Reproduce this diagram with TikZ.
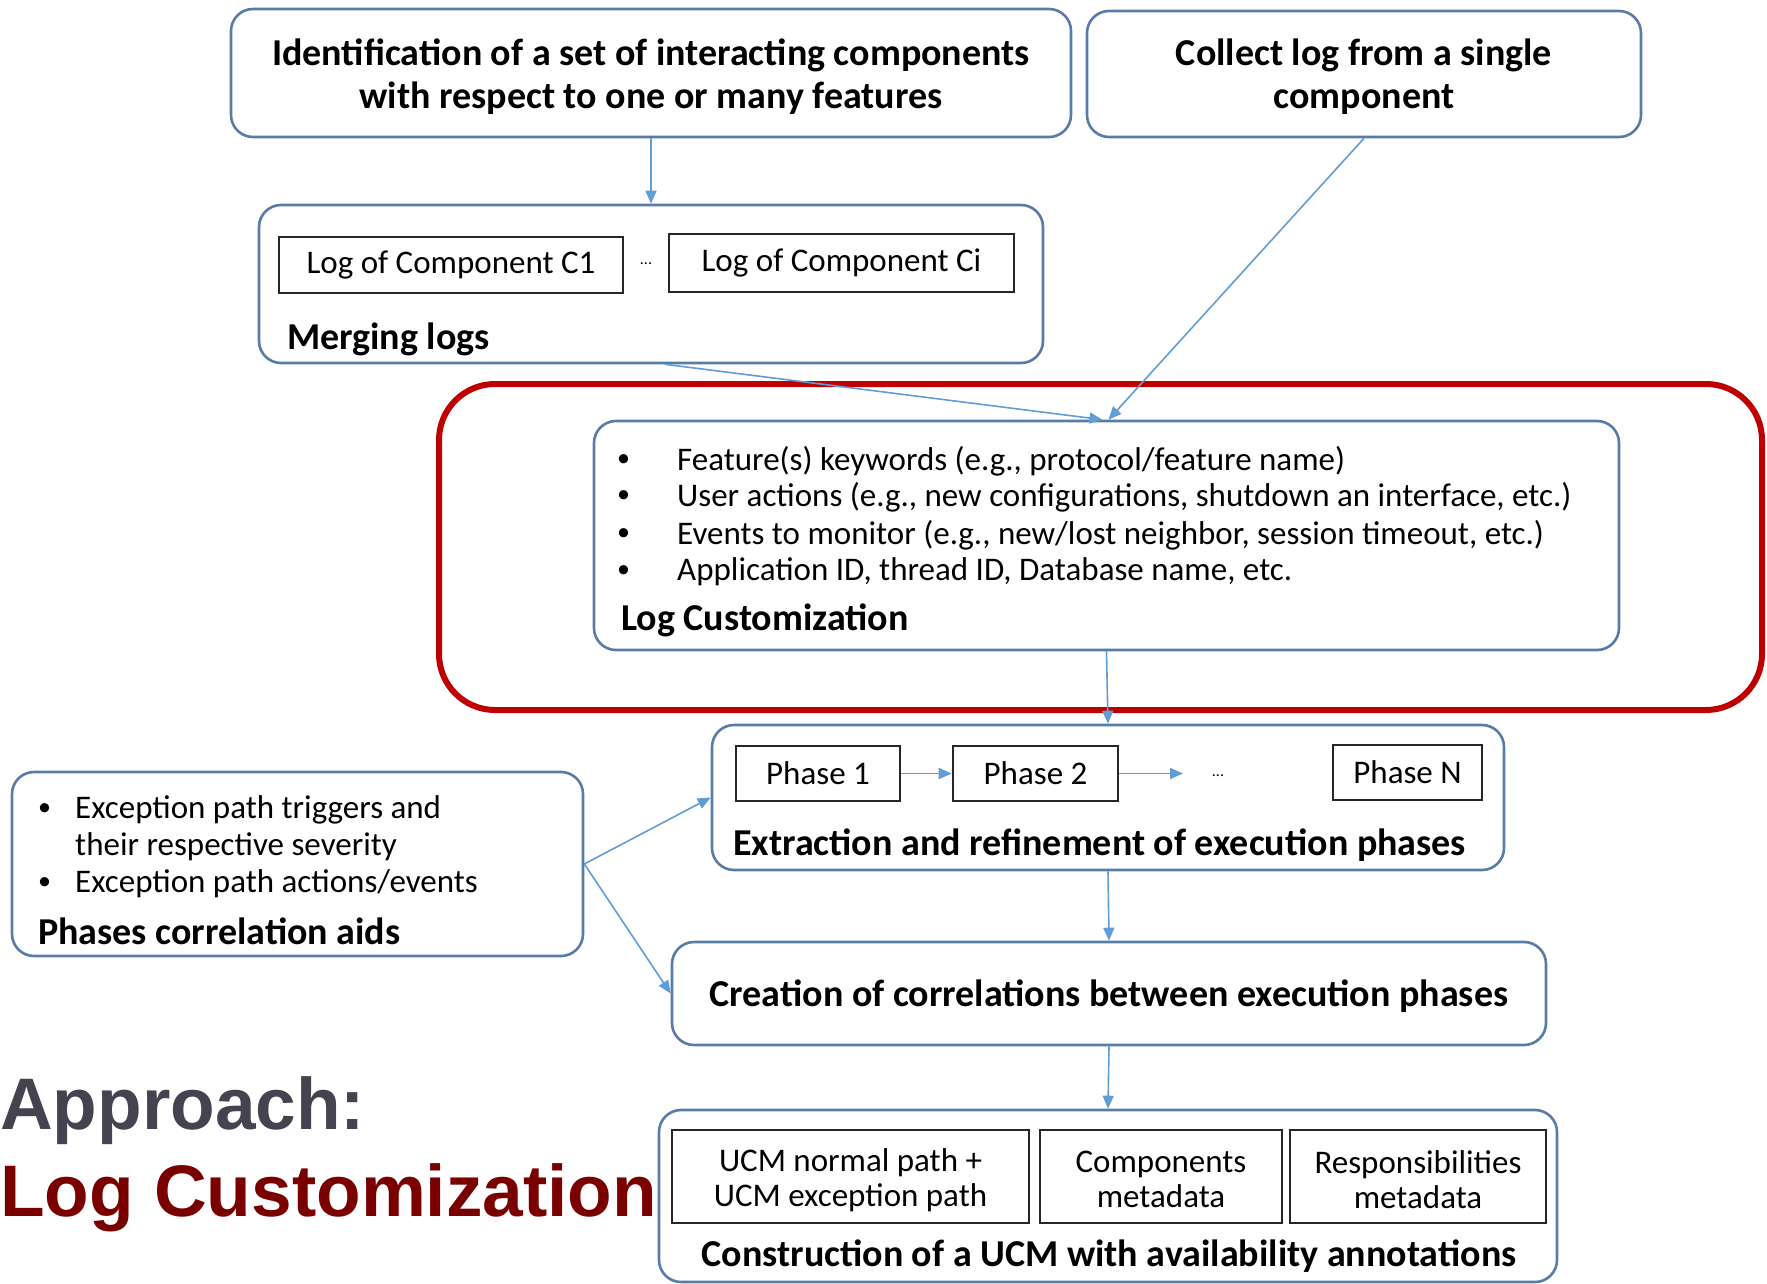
\documentclass[tikz,border=0pt]{standalone}
\usepackage{fontspec}
\setmainfont{Carlito}
\newfontfamily\headfont{Liberation Sans}
\usetikzlibrary{arrows.meta}
\definecolor{boxblue}{RGB}{88,124,168}
\definecolor{arrowblue}{RGB}{96,156,214}
\definecolor{hilite}{RGB}{192,0,0}
\definecolor{titlegray}{RGB}{68,68,80}
\definecolor{titlered}{RGB}{122,0,0}
\begin{document}
\begin{tikzpicture}[x=1pt,y=-1pt,
  rbox/.style={draw=boxblue, line width=2.6pt, rounded corners=22pt, inner sep=0pt},
  ibox/.style={draw=black!85, line width=2.6pt, inner sep=0pt},
  arr/.style={draw=arrowblue, line width=1.6pt, -{Triangle[length=13pt,width=11pt]}},
  txt/.style={inner sep=0pt, text=black},
  bigb/.style={txt, font=\fontsize{38}{43}\selectfont\bfseries},
  lab/.style={txt, anchor=west, font=\fontsize{38}{43}\selectfont\bfseries},
  reg/.style={txt, font=\fontsize{33}{35}\selectfont},
  bul/.style={txt, anchor=west, font=\fontsize{33}{37}\selectfont},
  dot/.style={txt, anchor=west, font=\fontsize{26}{30}\selectfont},
]
\useasboundingbox (0,0) rectangle (1767,1284);

% highlight frame
\node[draw=hilite, line width=6pt, rounded corners=56pt, minimum width=1323pt, minimum height=326pt, inner sep=0pt] (hl) at (1100.5,547) {};

% top boxes
\node[rbox, minimum width=840pt, minimum height=128pt] (b1) at (651,73) {};
\node[bigb, align=center] (t1) at (651,77) {Identification of a set of interacting components\\with respect to one or many features};
\node[rbox, minimum width=554pt, minimum height=126pt] (b2) at (1364,74) {};
\node[bigb, align=center] (t2) at (1364,77) {Collect log from a single\\component};

% merging logs
\node[rbox, minimum width=784pt, minimum height=158pt] (b3) at (651,284) {};
\node[ibox, minimum width=344pt, minimum height=56pt] (c1) at (451,265) {};
\node[reg] at (c1) {Log of Component C1};
\node[ibox, minimum width=345pt, minimum height=58pt] (ci) at (841.5,263) {};
\node[reg] at (ci) {Log of Component Ci};
\node[txt, font=\fontsize{16}{18}\selectfont] (cdots) at (646,264) {...};
\node[lab] (l3) at (287,339) {Merging logs};

% log customization
\node[rbox, minimum width=1025pt, minimum height=229pt] (b4) at (1106.5,535.5) {};
\foreach \y/\t [count=\i] in {461/{Feature(s) keywords (e.g., protocol/feature name)},
  497/{User actions (e.g., new configurations, shutdown an interface, etc.)},
  535/{Events to monitor (e.g., new/lost neighbor, session timeout, etc.)},
  572/{Application ID, thread ID, Database name, etc.}} {
  \node[dot] (k\i) at (617,\y) {•};
  \node[bul] (m\i) at (677,\y) {\t};
}
\node[lab] (l4) at (621,620) {Log Customization};

% execution phases
\node[rbox, minimum width=792pt, minimum height=145pt] (b5) at (1108,797.5) {};
\node[ibox, minimum width=164pt, minimum height=55pt] (p1) at (818,773.5) {};
\node[reg] at (p1) {Phase 1};
\node[ibox, minimum width=165pt, minimum height=55pt] (p2) at (1035.5,773.5) {};
\node[reg] at (p2) {Phase 2};
\node[ibox, minimum width=149pt, minimum height=55pt] (pn) at (1407.5,772.5) {};
\node[reg] at (pn) {Phase N};
\node[txt, font=\fontsize{16}{18}\selectfont] (pdots) at (1218,776) {...};
\coordinate (pend) at (1183,773.5);
\node[lab] (l5) at (733,845) {Extraction and refinement of execution phases};

% correlation aids
\node[rbox, minimum width=571pt, minimum height=184pt] (b6) at (297.5,864) {};
\node[dot] at (38,810) {•};
\node[bul] at (75,810) {Exception path triggers and};
\node[bul] at (75,847) {their respective severity};
\node[dot] at (38,884) {•};
\node[bul] at (75,884) {Exception path actions/events};
\node[lab] (l6) at (38,931) {Phases correlation aids};

% correlations
\node[rbox, minimum width=874pt, minimum height=103pt] (b7) at (1109,993.5) {};
\node[txt, font=\fontsize{38}{43}\selectfont\bfseries] at (1109,996) {Creation of correlations between execution phases};

% UCM construction
\node[rbox, minimum width=898pt, minimum height=172pt] (b8) at (1108,1196) {};
\node[ibox, minimum width=357pt, minimum height=93pt] (u1) at (850.5,1176.5) {};
\node[reg, align=center] at ([yshift=-4pt]u1) {UCM normal path +\\UCM exception path};
\node[ibox, minimum width=242pt, minimum height=93pt] (u2) at (1161,1176.5) {};
\node[reg, align=center] at ([yshift=-3pt]u2) {Components\\metadata};
\node[ibox, minimum width=256pt, minimum height=93pt] (u3) at (1418,1176.5) {};
\node[reg, align=center] at ([yshift=-3pt]u3) {Responsibilities\\metadata};
\node[txt, font=\fontsize{38}{43}\selectfont\bfseries] (l8) at (1109,1256) {Construction of a UCM with availability annotations};

% title
\node[txt, anchor=base west, text=titlegray, font=\headfont\bfseries\fontsize{73}{80}\selectfont] (ap) at (0,1129) {Approach:};
\node[txt, anchor=base west, text=titlered, font=\headfont\bfseries\fontsize{73}{80}\selectfont] (lc) at (0,1216) {Log Customization};

% connectors
\draw[arr] (b1.south) -- (b3.north);
\draw[arr] ([xshift=14pt]b3.south) -- ([xshift=-4pt]b4.north);
\draw[arr] (b2.south) -- ([xshift=2pt]b4.north);
\draw[arr] (b4.south) -- (b5.north);
\draw[arr] (p1.east) -- (p2.west);
\draw[arr] (p2.east) -- (pend);
\draw[arr] (b5.south) -- (b7.north);
\draw[arr] (b7.south) -- (b8.north);
\draw[arr] (b6.east) -- (b5.west);
\draw[arr] (b6.east) -- (b7.west);
\end{tikzpicture}
\end{document}
